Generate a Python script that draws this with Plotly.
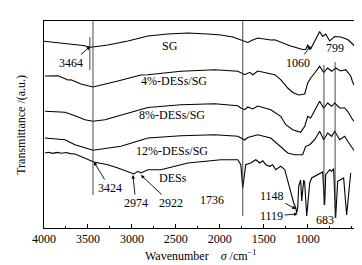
import plotly.graph_objects as go

# Wavenumber (cm^-1) and transmittance (a.u., offset stacked)
sg_w = [4000, 3693, 3557, 3466, 3273, 3045, 2818, 2591, 2364, 2136, 1989, 1852, 1761, 1705,
        1682, 1625, 1568, 1420, 1375, 1193, 1057, 1023, 1000, 966, 909, 864, 830, 795, 750,
        693, 625, 545, 489, 455, 409]
sg_v = [186.7, 184.3, 182.5, 180.7, 183, 187, 192, 194, 195, 194, 193, 191, 188, 185.5,
        185.5, 188, 190, 188, 188.3, 182, 178.5, 178.5, 183, 179, 188, 196.5, 191.5, 194, 187,
        191.5, 191, 188.5, 184, 180.5, 182.5]

d4_w = [3989, 3841, 3727, 3693, 3580, 3443, 3159, 2898, 2818, 2443, 2057, 1795, 1716, 1659,
        1625, 1568, 1375, 1307, 1227, 1170, 1102, 1034, 1000, 966, 920, 864, 818, 773, 727,
        682, 625, 568, 511, 489, 455, 409]
d4_v = [152, 152.3, 148, 148.3, 144, 141, 147, 153, 153.3, 156.7, 158.3, 156.7, 153.3, 155.7,
        153.3, 157, 153.3, 148.3, 140, 135.5, 133, 134, 145, 150, 155, 161.7, 155.7, 160, 156.7,
        160, 157, 158.3, 152, 146, 140, 147]

d8_w = [3989, 3761, 3648, 3534, 3443, 3307, 2818, 2443, 2057, 1795, 1761, 1716, 1682, 1625,
        1568, 1420, 1307, 1250, 1170, 1080, 1034, 1000, 966, 920, 864, 818, 773, 727, 693,
        636, 580, 545, 489, 455, 420]
d8_v = [116.7, 115.7, 112.3, 108.3, 106.7, 108.3, 120.5, 123.3, 124.3, 122.3, 120, 118.3, 121, 119,
        122, 118.3, 111.7, 103.3, 98.3, 95.7, 101.7, 111.7, 110, 118.3, 126.7, 120, 125, 121.7, 125,
        120, 120, 116.7, 108.3, 105.7, 111.7]

d12_w = [3989, 3761, 3648, 3534, 3443, 3125, 2818, 2443, 2057, 1795, 1761, 1716, 1682, 1568,
         1420, 1307, 1227, 1148, 1057, 1023, 977, 920, 864, 818, 773, 727, 693, 636, 580,
         545, 466, 420]
d12_v = [90, 88.3, 83.3, 80, 77.7, 81.7, 90, 92.3, 93.3, 91.7, 90, 88, 90.5, 93.3,
         90, 81.7, 75, 73.3, 73.3, 81.7, 83.3, 88.3, 96.7, 88.3, 95, 91.7, 96.7, 88.3, 91.7,
         86.7, 76.7, 85]

des_w = [3989, 3950, 3900, 3850, 3800, 3750, 3700, 3648, 3432, 3273, 3159, 3011, 2977, 2932,
         2898, 2818, 2670, 2511, 2364, 1989,
         1795, 1761, 1739, 1705, 1648, 1591, 1545, 1511, 1477, 1432, 1398, 1364, 1307, 1261,
         1227, 1193, 1159, 1136, 1125, 1114, 1102, 1080, 1068, 1045, 1034, 1011, 977, 955,
         886, 830, 807, 795, 750, 727, 705, 682, 659, 625, 591, 557, 523, 511]
des_v = [75, 75.8, 74.6, 75.6, 74.7, 75.5, 74.4, 74, 66, 63.3, 60, 55, 54, 56.7,
         55, 58.3, 58.3, 61.7, 65, 68.3,
         68.3, 63.3, 40, 63.3, 65, 68.3, 65, 67.3, 63.3, 61.7, 63.3, 58.3, 61.7, 58.3,
         46.7, 35, 25, 20, 15, 20, 42, 48, 27, 48, 45, 12, 45, 50,
         53, 56, 23, 53.3, 58.3, 56.7, 59.3, 10, 46.7, 48, 50, 13, 45, 55]

tick_vals = [4000, 3500, 3000, 2500, 2000, 1500, 1000]
tick_text = ["4000", "3500", "3000", "2500", "2000", "1500", "1000"]
minor_vals = [3750, 3250, 2750, 2250, 1750, 1250, 750, 500]

# reference lines: (wavenumber, bottom, top)
ref_lines = [(3478, 158, 191), (3443, 33, 207), (1739, 12, 207), (815, 23, 163), (688, 10, 166)]

FONT = "Liberation Serif"

fig = go.Figure()
for w, v in [(sg_w, sg_v), (d4_w, d4_v), (d8_w, d8_v), (d12_w, d12_v), (des_w, des_v)]:
    fig.add_trace(go.Scatter(x=w, y=v, mode="lines",
                             line=dict(color="black", width=1.1), showlegend=False,
                             hoverinfo="skip"))

for x, y0, y1 in ref_lines:
    fig.add_shape(type="line", x0=x, x1=x, y0=y0, y1=y1, xref="x", yref="y",
                  line=dict(color="#333333", width=0.9))

# curve labels (no arrow)
plain = [("SG", 2566, 182), ("4%-DESs/SG", 2521, 147), ("8%-DESs/SG", 2543, 113),
         ("12%-DESs/SG", 2543, 77), ("DESs", 2532, 50), ("1736", 2088, 28),
         ("683", 802, 8), ("799", 688, 180)]
for t, x, y in plain:
    fig.add_annotation(x=x, y=y, text=t, showarrow=False, xref="x", yref="y",
                       font=dict(family=FONT, size=12, color="black"))

# labels with arrows: text, tip x, tip y, ax, ay
arrows = [("3464", 3475, 181.5, -19, 16.5), ("1060", 966, 182, -13, 17),
          ("3424", 3432, 66, 16, 26), ("2974", 2989, 53, 3, 28),
          ("2922", 2898, 53, 30, 28), ("1148", 1136, 19, -24, -13),
          ("1119", 1114, 14, -26, 2)]
for t, x, y, ax, ay in arrows:
    fig.add_annotation(x=x, y=y, text=t, showarrow=True, ax=ax, ay=ay,
                       arrowhead=2, arrowsize=0.8, arrowwidth=0.9, arrowcolor="black",
                       standoff=0, startstandoff=0, xref="x", yref="y",
                       font=dict(family=FONT, size=12, color="black"))

fig.add_annotation(text="Wavenumber&nbsp;&nbsp;&nbsp;&nbsp;<i>σ</i> /cm<sup>−1</sup>",
                   x=0.313, y=-0.135, xref="paper", yref="paper", showarrow=False,
                   xanchor="left", yanchor="middle",
                   font=dict(family=FONT, size=12, color="black"))
fig.add_annotation(text="Transmittance /(a.u.)", textangle=-90,
                   x=-0.075, y=0.5, xref="paper", yref="paper", showarrow=False,
                   xanchor="center", font=dict(family=FONT, size=12, color="black"))

fig.update_xaxes(range=[4000, 405], showline=True, linecolor="black", linewidth=1,
                 mirror=True, ticks="inside", ticklen=4, tickcolor="black",
                 tickvals=tick_vals, ticktext=tick_text,
                 minor=dict(tickvals=minor_vals, ticks="inside", ticklen=2.5, tickcolor="black"),
                 showgrid=False, zeroline=False,
                 tickfont=dict(family=FONT, size=12, color="black"))
fig.update_yaxes(range=[0, 207], showline=True, linecolor="black", linewidth=1,
                 mirror=True, ticks="", showticklabels=False, showgrid=False, zeroline=False)

fig.update_layout(width=362, height=265, margin=dict(l=36, r=10, t=13, b=45),
                  plot_bgcolor="white", paper_bgcolor="white",
                  font=dict(family=FONT, size=12, color="black"))

fig.write_html("out.html", config={"displayModeBar": False})
